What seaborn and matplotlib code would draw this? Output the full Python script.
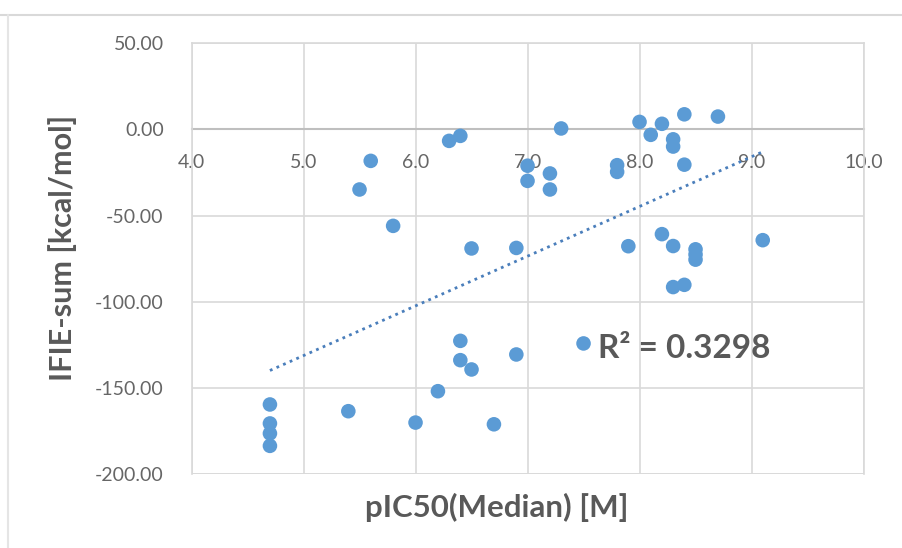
import numpy as np
import pandas as pd
import matplotlib.pyplot as plt
import seaborn as sns

# pIC50 vs IFIE-sum
pic50 = [5.6, 5.5, 5.8, 6.3, 6.4, 6.5, 7.0, 7.0, 7.2, 7.2, 7.3,
         7.8, 7.8, 8.0, 8.1, 8.2, 8.3, 8.3, 8.4, 8.4, 8.7,
         6.9, 8.2, 8.3, 7.9, 8.5, 8.5, 8.5, 9.1, 8.3, 8.4,
         7.5, 6.9, 6.4, 6.4, 6.5, 6.2, 4.7, 4.7, 4.7, 4.7,
         5.4, 6.0, 6.7]
ifie_sum = [-18.2, -34.8, -55.9, -6.6, -3.7, -69.0, -21.0, -29.8, -25.5, -34.8, 0.6,
            -20.7, -24.6, 4.4, -3.1, 3.3, -5.7, -9.9, 8.8, -20.4, 7.5,
            -68.7, -60.7, -67.6, -67.7, -69.5, -72.5, -75.5, -64.2, -91.4, -90.1,
            -124.1, -130.5, -122.6, -133.8, -139.2, -151.8, -159.5, -170.5, -176.3, -183.5,
            -163.4, -170.0, -171.0]
x_ticks = [4.0, 5.0, 6.0, 7.0, 8.0, 9.0, 10.0]
y_ticks = [50, 0, -50, -100, -150, -200]
r2_label = "R² = 0.3298"

df = pd.DataFrame({'pIC50': pic50, 'IFIE': ifie_sum})

sns.set_style('white')
plt.rcParams['font.family'] = ['Lato', 'DejaVu Sans']

fig = plt.figure(figsize=(9.03, 5.48), dpi=100)
ax = fig.add_axes([0.2121, 0.1345, 0.7442, 0.7865])

sns.scatterplot(data=df, x='pIC50', y='IFIE', ax=ax, s=110, color='#5B9BD5',
                edgecolor='none', zorder=3)

# linear trendline over data range
coef = np.polyfit(df['pIC50'], df['IFIE'], 1)
xs = np.array([df['pIC50'].min(), df['pIC50'].max()])
ax.plot(xs, np.polyval(coef, xs), color='#4A7EBB', lw=2,
        linestyle=(0, (1, 1.6)), zorder=2)

ax.set_xlim(4, 10)
ax.set_ylim(-200, 50)
ax.set_xticks(x_ticks)
ax.set_yticks(y_ticks)
ax.set_xticklabels([f'{t:.1f}' for t in x_ticks])
ax.set_yticklabels([f'{t:.2f}' for t in y_ticks])
ax.grid(True, color='#D9D9D9', lw=1.2)
ax.set_axisbelow(True)

for side in ['top', 'right', 'left']:
    ax.spines[side].set_color('#D9D9D9')
    ax.spines[side].set_linewidth(1.2)
ax.spines['bottom'].set_position(('data', 0))
ax.spines['bottom'].set_color('#BFBFBF')
ax.spines['bottom'].set_linewidth(1.5)
ax.spines['bottom'].set_zorder(1)

ax.tick_params(axis='x', length=0, pad=18, labelsize=14, labelcolor='#666666')
ax.tick_params(axis='y', length=0, pad=20, labelsize=14, labelcolor='#666666')
ax.set_xlabel('')
ax.set_ylabel('')

# extra bottom border at -200
ax.axhline(-200, color='#D9D9D9', lw=1.2, zorder=0)

fig.text(63 / 903, 1 - 248 / 548, 'IFIE-sum [kcal/mol]', rotation=90,
         ha='center', va='center', fontsize=22, fontweight='bold', color='#595959')
fig.text(497 / 903, 1 - 507 / 548, 'pIC50(Median) [M]', ha='center',
         va='center', fontsize=22.5, fontweight='bold', color='#595959')
ax.text(7.63, -127, r2_label, ha='left', va='center', fontsize=24,
        fontweight='bold', color='#595959')

# light chart frame (top and left edges)
fig.add_artist(plt.Line2D([0, 1], [1 - 15 / 548] * 2, color='#D9D9D9', lw=1.5))
fig.add_artist(plt.Line2D([8 / 903] * 2, [0, 1 - 15 / 548], color='#E5E5E5', lw=1.5))

fig.savefig('out.png', dpi=100)
